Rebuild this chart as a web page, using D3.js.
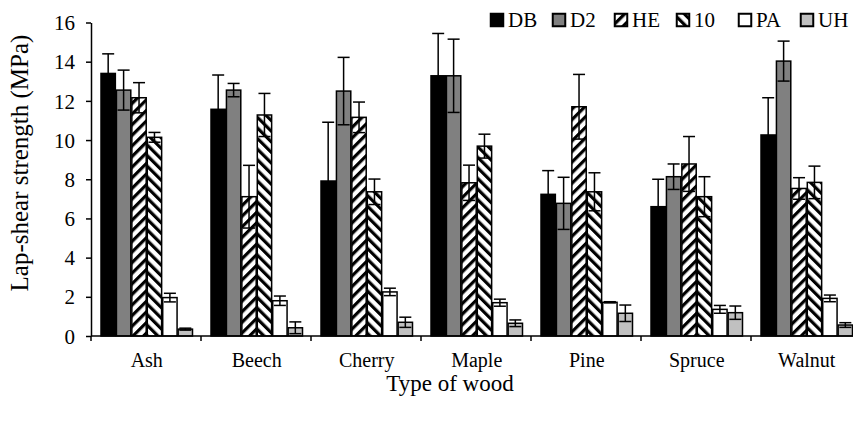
<!DOCTYPE html>
<html>
<head>
<meta charset="utf-8">
<script src="https://cdn.jsdelivr.net/npm/d3@7"></script>
<style>
  html, body { margin: 0; padding: 0; background: #fff; }
  svg { display: block; }
  text { font-family: "Liberation Serif", "Times New Roman", serif; fill: #000; }
</style>
</head>
<body>
<svg id="chart" width="853" height="421"></svg>
<script>
// ---- data ----
const categories = ["Ash", "Beech", "Cherry", "Maple", "Pine", "Spruce", "Walnut"];
const seriesNames = ["DB", "D2", "HE", "10", "PA", "UH"];
const DB     = [13.40, 11.57, 7.91, 13.28, 7.23, 6.60, 10.26];
const DB_err = [1.00, 1.75, 3.00, 2.16, 1.21, 1.40, 1.90];
const D2     = [12.55, 12.55, 12.50, 13.28, 6.77, 8.13, 14.03];
const D2_err = [1.02, 0.34, 1.72, 1.87, 1.33, 0.65, 1.02];
const HE     = [12.16, 7.11, 11.16, 7.82, 11.70, 8.78, 7.53];
const HE_err = [0.77, 1.60, 0.78, 0.90, 1.65, 1.40, 0.55];
const S10    = [10.14, 11.28, 7.36, 9.69, 7.36, 7.11, 7.84];
const S10_err= [0.25, 1.10, 0.65, 0.61, 0.97, 1.02, 0.83];
const PA     = [1.96, 1.80, 2.25, 1.70, 1.72, 1.36, 1.92];
const PA_err = [0.22, 0.24, 0.19, 0.18, 0.03, 0.20, 0.17];
const UH     = [0.35, 0.42, 0.70, 0.65, 1.16, 1.19, 0.56];
const UH_err = [0.05, 0.30, 0.26, 0.17, 0.42, 0.34, 0.12];
const yTicks = [0, 2, 4, 6, 8, 10, 12, 14, 16];
const yTitle = "Lap-shear strength (MPa)";
const xTitle = "Type of wood";

const valuesBySeries = [DB, D2, HE, S10, PA, UH];
const errorsBySeries = [DB_err, D2_err, HE_err, S10_err, PA_err, UH_err];

// ---- layout ----
const svg = d3.select("#chart");
const x0Left = 91, step = 110, y0 = 336, yTop = 22.5;

const x = d3.scaleBand().domain(categories)
  .range([x0Left, x0Left + step * categories.length]).padding(0);
const xs = d3.scaleBand().domain(seriesNames).range([10, 101.5]).paddingInner(0.07).paddingOuter(0);
const y = d3.scaleLinear().domain([0, 16]).range([y0, yTop]);

// patterns
const defs = svg.append("defs");
function stripe(id, angle) {
  const p = defs.append("pattern").attr("id", id)
    .attr("patternUnits", "userSpaceOnUse")
    .attr("width", 7.5).attr("height", 7.5)
    .attr("patternTransform", `rotate(${angle})`);
  p.append("rect").attr("width", 7.5).attr("height", 7.5).attr("fill", "#fff");
  p.append("rect").attr("width", 3.2).attr("height", 7.5).attr("fill", "#000");
}
stripe("upDiag", 45);
stripe("downDiag", -45);

const fills = {
  "DB": "#000",
  "D2": "#808080",
  "HE": "url(#upDiag)",
  "10": "url(#downDiag)",
  "PA": "#fff",
  "UH": "#c0c0c0"
};

// data rows
const rows = [];
categories.forEach((c, ci) => {
  seriesNames.forEach((s, si) => {
    rows.push({ cat: c, ser: s, v: valuesBySeries[si][ci], e: errorsBySeries[si][ci] });
  });
});

// bars
const g = svg.append("g");
g.selectAll("rect.bar").data(rows).join("rect")
  .attr("class", "bar")
  .attr("x", d => x(d.cat) + xs(d.ser))
  .attr("width", xs.bandwidth())
  .attr("y", d => y(d.v))
  .attr("height", d => y0 - y(d.v))
  .attr("fill", d => fills[d.ser])
  .attr("stroke", "#000")
  .attr("stroke-width", 1.5);

// error bars
const capW = 12;
const eg = svg.append("g").attr("stroke", "#000").attr("stroke-width", 1.5);
rows.forEach(d => {
  const cx = x(d.cat) + xs(d.ser) + xs.bandwidth() / 2;
  const yHi = y(d.v + d.e), yLo = y(Math.max(0, d.v - d.e));
  eg.append("line").attr("x1", cx).attr("x2", cx).attr("y1", yHi).attr("y2", yLo);
  eg.append("line").attr("x1", cx - capW / 2).attr("x2", cx + capW / 2).attr("y1", yHi).attr("y2", yHi);
  eg.append("line").attr("x1", cx - capW / 2).attr("x2", cx + capW / 2).attr("y1", yLo).attr("y2", yLo);
});

// y axis
const yAxis = svg.append("g").attr("transform", `translate(${x0Left},0)`)
  .call(d3.axisLeft(y).tickValues(yTicks).tickSize(5).tickSizeOuter(0).tickPadding(11).tickFormat(d3.format("d")));
yAxis.attr("font-family", null);
yAxis.select(".domain").attr("stroke", "#000").attr("stroke-width", 1.5);
yAxis.selectAll(".tick line").attr("stroke", "#000").attr("stroke-width", 1.5);
yAxis.selectAll(".tick text").style("font-size", "21px").attr("dy", "0.34em")
  .style("font-family", "'Liberation Serif', serif");

// x axis
const xAxisG = svg.append("g");
xAxisG.append("line").attr("x1", x0Left).attr("x2", 853).attr("y1", y0).attr("y2", y0)
  .attr("stroke", "#000").attr("stroke-width", 1.5);
const boundaries = categories.map(c => x(c)).concat([x(categories[categories.length - 1]) + x.bandwidth()]);
xAxisG.selectAll("line.tk").data(boundaries).join("line").attr("class", "tk")
  .attr("x1", d => d).attr("x2", d => d).attr("y1", y0).attr("y2", y0 + 5)
  .attr("stroke", "#000").attr("stroke-width", 1.5);
xAxisG.selectAll("text.cat").data(categories).join("text").attr("class", "cat")
  .attr("x", d => x(d) + 10 + (101.5 - 10) / 2)
  .attr("y", 367)
  .attr("text-anchor", "middle")
  .style("font-size", "20px")
  .text(d => d);

// titles
svg.append("text").attr("x", 450).attr("y", 391).attr("text-anchor", "middle")
  .style("font-size", "23px").text(xTitle);
svg.append("text").attr("transform", "translate(28,163) rotate(-90)").attr("text-anchor", "middle")
  .style("font-size", "25px").text(yTitle);

// legend
const lg = svg.append("g");
seriesNames.forEach((s, i) => {
  const lx = 490 + i * 62;
  lg.append("rect").attr("x", lx + 0.75).attr("y", 13.75).attr("width", 12.5).attr("height", 12.5)
    .attr("fill", fills[s]).attr("stroke", "#000").attr("stroke-width", 2);
  lg.append("text").attr("x", lx + 18).attr("y", 27).style("font-size", "21px").text(s);
});
</script>
</body>
</html>
